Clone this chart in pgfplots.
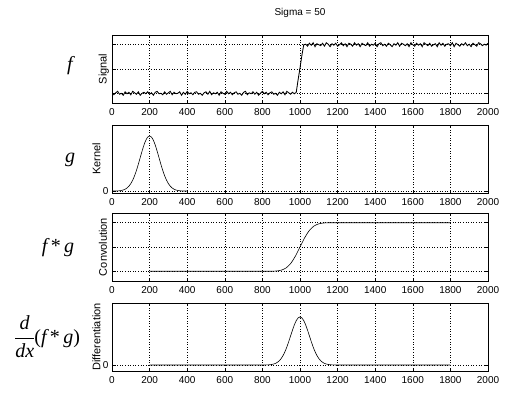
\documentclass[border=0pt]{standalone}
\usepackage{pgfplots}
\pgfplotsset{compat=1.18}
\usepackage{fontspec}
\setmainfont{Liberation Sans}
\newfontfamily\tms{Liberation Serif}

\pgfplotsset{
  panel/.style={
    scale only axis, width=376pt, height=68pt,
    anchor=south west,
    xmin=0, xmax=2000, xtick={0,200,...,2000},
    grid=major,
    major grid style={black, line width=0.45pt, dash pattern=on 0.8pt off 1.8pt},
    axis line style={black, line width=0.55pt},
    tick align=inside, major tick length=3pt,
    tick style={black, line width=0.55pt},
    ticklabel style={font=\fontsize{10}{12}\selectfont},
    xticklabel style={yshift=-1.5pt},
    /pgf/number format/assume math mode=true,
    /pgf/number format/1000 sep={},
    ylabel style={font=\fontsize{11}{13}\selectfont, anchor=south, inner sep=0pt},
  },
  sig/.style={black, line width=0.6pt, mark=none},
}

\begin{document}
\begin{tikzpicture}
\useasboundingbox (0,0) rectangle (532pt,393pt);

% Panel 1: Signal
\begin{axis}[panel, at={(112pt,290pt)},
  ymin=-0.2, ymax=1.2, ytick={0,0.5,1}, yticklabels={},
  ylabel={Signal}, ylabel style={at={(axis description cs:-0.008,0.5)}},
  title={Sigma = 50},
  title style={font=\fontsize{10}{12}\selectfont, at={(axis description cs:0.5,1)}, anchor=south, yshift=8pt}]
\addplot[sig, line width=0.85pt] coordinates {
(0,0.02)(10,-0.03)(20,0.01)(30,0.04)(40,-0.02)(50,0.00)(60,-0.04)(70,0.03)(80,-0.01)(90,0.02)
(100,-0.03)(110,0.04)(120,0.01)(130,-0.02)(140,0.03)(150,-0.04)(160,0.00)(170,0.02)(180,-0.01)(190,0.03)
(200,-0.02)(210,0.01)(220,-0.04)(230,0.02)(240,0.04)(250,-0.01)(260,0.00)(270,-0.03)(280,0.03)(290,-0.02)
(300,0.01)(310,0.04)(320,-0.03)(330,0.02)(340,-0.01)(350,0.00)(360,0.03)(370,-0.04)(380,0.02)(390,-0.02)
(400,0.04)(410,-0.01)(420,0.01)(430,-0.03)(440,0.02)(450,0.03)(460,-0.02)(470,0.00)(480,-0.04)(490,0.01)
(500,0.03)(510,-0.02)(520,0.04)(530,-0.03)(540,0.01)(550,-0.01)(560,0.02)(570,-0.04)(580,0.03)(590,0.00)
(600,-0.02)(610,0.04)(620,-0.01)(630,0.02)(640,-0.03)(650,0.01)(660,0.03)(670,-0.02)(680,0.00)(690,-0.04)
(700,0.02)(710,0.04)(720,-0.03)(730,0.01)(740,-0.01)(750,0.03)(760,-0.02)(770,0.02)(780,-0.04)(790,0.00)
(800,0.04)(810,-0.01)(820,0.02)(830,-0.03)(840,0.01)(850,0.03)(860,-0.02)(870,0.00)(880,-0.04)(890,0.02)
(900,-0.01)(910,0.03)(920,-0.03)(930,0.04)(940,0.01)(950,-0.02)(960,0.02)(970,-0.01)
(980,0.02)(990,0.28)(1000,0.52)(1010,0.78)(1020,1.0)
(1030,1.01)(1040,0.97)(1050,1.03)(1060,0.99)(1070,1.04)(1080,0.96)(1090,1.02)(1100,1.00)(1110,0.98)(1120,1.03)
(1130,0.97)(1140,1.04)(1150,1.01)(1160,0.96)(1170,1.02)(1180,0.99)(1190,1.03)(1200,0.97)(1210,1.00)(1220,1.04)
(1230,0.98)(1240,1.02)(1250,0.96)(1260,1.03)(1270,1.01)(1280,0.97)(1290,1.04)(1300,0.99)(1310,1.02)(1320,0.96)
(1330,1.03)(1340,1.00)(1350,0.98)(1360,1.04)(1370,0.97)(1380,1.01)(1390,0.99)(1400,1.03)(1410,0.96)(1420,1.02)
(1430,1.04)(1440,0.98)(1450,1.01)(1460,0.97)(1470,1.03)(1480,1.00)(1490,0.96)(1500,1.02)(1510,0.99)(1520,1.04)
(1530,0.97)(1540,1.03)(1550,1.01)(1560,0.98)(1570,1.02)(1580,0.96)(1590,1.04)(1600,1.00)(1610,0.97)(1620,1.03)
(1630,0.99)(1640,1.02)(1650,0.96)(1660,1.04)(1670,1.01)(1680,0.98)(1690,1.03)(1700,0.97)(1710,1.00)(1720,1.02)
(1730,0.96)(1740,1.04)(1750,0.99)(1760,1.03)(1770,0.97)(1780,1.01)(1790,1.02)(1800,0.98)(1810,1.04)(1820,0.96)
(1830,1.03)(1840,1.00)(1850,0.97)(1860,1.02)(1870,0.99)(1880,1.04)(1890,0.98)(1900,1.01)(1910,0.96)(1920,1.03)
(1930,1.00)(1940,0.97)(1950,1.04)(1960,1.02)(1970,0.98)(1980,1.01)(1990,0.99)(2000,1.03)
};
\end{axis}

% Panel 2: Kernel
\begin{axis}[panel, at={(112pt,200pt)},
  ymin=-0.035, ymax=1.2, ytick={0}, yticklabels={0},
  ylabel={Kernel}, ylabel style={at={(axis description cs:-0.03,0.5)}}]
\addplot[sig, smooth] coordinates {
(0,0.0003)(10,0.0007)(20,0.0015)(30,0.0031)(40,0.006)(50,0.0111)(60,0.0198)(70,0.034)(80,0.0561)(90,0.0889)
(100,0.135)(110,0.198)(120,0.278)(130,0.375)(140,0.487)(150,0.607)(160,0.726)(170,0.835)(180,0.923)(190,0.980)
(200,1.0)
(210,0.980)(220,0.923)(230,0.835)(240,0.726)(250,0.607)(260,0.487)(270,0.375)(280,0.278)(290,0.198)(300,0.135)
(310,0.0889)(320,0.0561)(330,0.034)(340,0.0198)(350,0.0111)(360,0.006)(370,0.0031)(380,0.0015)(390,0.0007)(400,0.0003)
};
\end{axis}

% Panel 3: Convolution
\begin{axis}[panel, at={(112pt,112pt)},
  ymin=-0.2, ymax=1.2, ytick={0,0.5,1}, yticklabels={},
  ylabel={Convolution}, ylabel style={at={(axis description cs:-0.013,0.5)}}]
\addplot[sig, smooth] coordinates {
(200,0)(400,0)(600,0)(800,0)(825,0.0002)(850,0.0013)(875,0.0062)(900,0.0228)(925,0.0668)(950,0.1587)
(975,0.3085)(1000,0.5)(1025,0.6915)(1050,0.8413)(1075,0.9332)(1100,0.9772)(1125,0.9938)(1150,0.9987)
(1175,0.9998)(1200,1)(1400,1)(1600,1)(1800,1)
};
\end{axis}

% Panel 4: Differentiation
\begin{axis}[panel, at={(112pt,22pt)},
  ymin=-0.125, ymax=1.29, ytick={0}, yticklabels={0},
  ylabel={Differentiation}, ylabel style={at={(axis description cs:-0.03,0.5)}}]
\addplot[sig, smooth] coordinates {
(200,0)(400,0)(600,0)(790,0)
(800,0.0003)(810,0.0007)(820,0.0015)(830,0.0031)(840,0.006)(850,0.0111)(860,0.0198)(870,0.034)(880,0.0561)(890,0.0889)
(900,0.135)(910,0.198)(920,0.278)(930,0.375)(940,0.487)(950,0.607)(960,0.726)(970,0.835)(980,0.923)(990,0.980)
(1000,1.0)
(1010,0.980)(1020,0.923)(1030,0.835)(1040,0.726)(1050,0.607)(1060,0.487)(1070,0.375)(1080,0.278)(1090,0.198)(1100,0.135)
(1110,0.0889)(1120,0.0561)(1130,0.034)(1140,0.0198)(1150,0.0111)(1160,0.006)(1170,0.0031)(1180,0.0015)(1190,0.0007)(1200,0.0003)
(1210,0)(1400,0)(1600,0)(1800,0)
};
\end{axis}

% Left-hand symbolic labels
\node[font=\tms\fontsize{20}{22}\selectfont\itshape] at (70pt,327pt) {f};
\node[font=\tms\fontsize{20}{22}\selectfont\itshape] at (70pt,233pt) {g};
\node[font=\tms\fontsize{20}{22}\selectfont] at (58pt,145pt) {\itshape f\upshape\,*\,\itshape g};
\node[font=\tms\fontsize{20}{22}\selectfont] at (47pt,56pt)
  {$\displaystyle\frac{\hbox{\tms\itshape d}}{\hbox{\tms\itshape dx}}$\kern-1pt(\itshape f\upshape\,*\,\itshape g\upshape)};
\end{tikzpicture}
\end{document}
